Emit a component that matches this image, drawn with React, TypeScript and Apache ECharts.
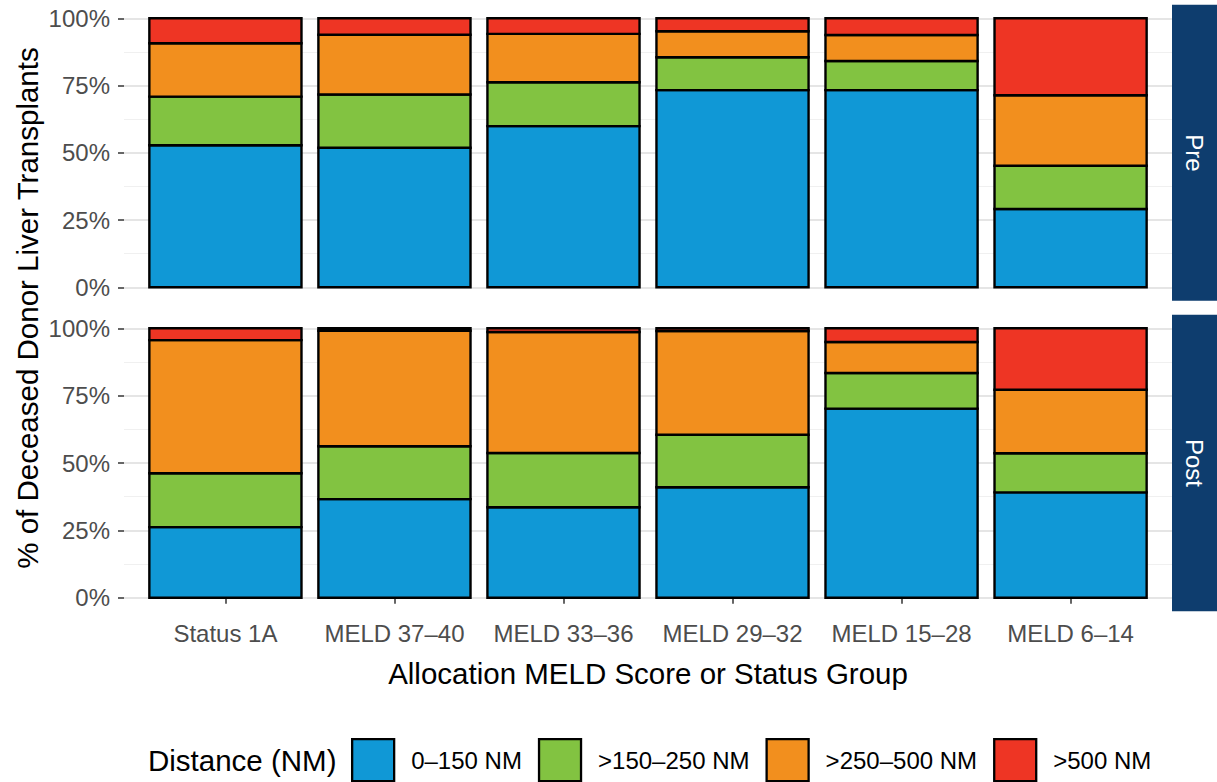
import React, { useEffect, useRef } from "react";
import * as echarts from "echarts";

// ---- data (percent of deceased donor liver transplants) ----
const categories = ["Status 1A", "MELD 37–40", "MELD 33–36", "MELD 29–32", "MELD 15–28", "MELD 6–14"];
const distanceGroups = ["0–150 NM", ">150–250 NM", ">250–500 NM", ">500 NM"];
const panels = ["Pre", "Post"];

const pre0to150 = [52.8, 51.9, 59.9, 73.3, 73.3, 29.1];
const pre150to250 = [18.1, 19.8, 16.3, 12.2, 10.8, 16.1];
const pre250to500 = [19.8, 22.2, 18.0, 9.7, 9.7, 26.2];
const preOver500 = [9.3, 6.1, 5.8, 4.8, 6.2, 28.6];

const post0to150 = [26.2, 36.6, 33.6, 41.0, 70.2, 39.1];
const post150to250 = [20.0, 19.6, 20.1, 19.5, 13.2, 14.5];
const post250to500 = [49.4, 42.9, 44.9, 38.5, 11.5, 23.6];
const postOver500 = [4.4, 0.9, 1.4, 1.0, 5.1, 22.8];

const yTickValues = [0, 25, 50, 75, 100];

// ---- styles ----
const groupColors = ["#1098D6", "#82C341", "#F28F1E", "#EE3524"];
const FONT = "'Liberation Sans', Arial, Helvetica, sans-serif";
const STRIP = "#0E3D6E";
const OUTLINE = 2.4;

export default function App() {
  const ref = useRef<HTMLDivElement>(null);

  useEffect(() => {
    if (!ref.current) return;
    const chart = echarts.init(ref.current, undefined, { renderer: "svg" });

    const panelData = [
      [pre0to150, pre150to250, pre250to500, preOver500],
      [post0to150, post150to250, post250to500, postOver500],
    ];

    // layout (pixels)
    const panelLeft = 124;
    const panelRight = 1172;
    const panelW = panelRight - panelLeft;
    const unit = panelW / (categories.length + 0.2);
    const barGridLeft = panelLeft + 0.1 * unit;
    const barGridW = unit * categories.length;
    const tops = [18.3, 328.3];
    const heights = [269, 269.4];
    const expand = 13.5;

    const grids: any[] = [];
    const xAxes: any[] = [];
    const yAxes: any[] = [];

    // background grids (full panel width) holding y axes and grid lines
    panels.forEach((_, p) => {
      grids.push({ left: panelLeft, top: tops[p], width: panelW, height: heights[p], outerBoundsMode: "none", containLabel: false });
      xAxes.push({ gridIndex: p, type: "value", min: 0, max: 1, show: false });
      yAxes.push({
        gridIndex: p,
        type: "value",
        min: 0,
        max: 100,
        interval: 25,
        axisLine: { show: false },
        axisTick: { show: true, length: 6, lineStyle: { color: "#333333", width: 1.5 } },
        axisLabel: {
          show: true,
          margin: 14,
          fontSize: 24,
          color: "#4D4D4D",
          fontFamily: FONT,
          formatter: (v: number) => (yTickValues.includes(v) ? `${v}%` : ""),
        },
        splitLine: { show: true, lineStyle: { color: "#DCDCDC", width: 1.6 } },
        minorTick: { show: false, splitNumber: 2 },
        minorSplitLine: { show: true, lineStyle: { color: "#F0F0F0", width: 1 } },
      });
    });

    // bar grids (category bands)
    panels.forEach((_, p) => {
      const gi = 2 + p;
      grids.push({ left: barGridLeft, top: tops[p], width: barGridW, height: heights[p], outerBoundsMode: "none", containLabel: false });
      const isBottom = p === panels.length - 1;
      xAxes.push({
        gridIndex: gi,
        type: "category",
        data: categories,
        boundaryGap: true,
        show: isBottom,
        offset: expand,
        axisLine: { show: false },
        axisTick: { show: isBottom, alignWithLabel: true, length: 6, lineStyle: { color: "#333333", width: 1.5 } },
        axisLabel: { show: isBottom, interval: 0, margin: 10, fontSize: 24, color: "#4D4D4D", fontFamily: FONT },
        splitLine: { show: false },
      });
      yAxes.push({ gridIndex: gi, type: "value", min: 0, max: 100, show: false, splitLine: { show: false } });
    });

    // stacked segments: [categoryIndex, lower, upper], drawn through the axes' scales
    const series: any[] = [];
    panels.forEach((_, p) => {
      const cumulative = categories.map(() => 0);
      distanceGroups.forEach((g, k) => {
        const values = panelData[p][k];
        const segs = values.map((v, i) => {
          const lo = cumulative[i];
          cumulative[i] = lo + v;
          return [i, lo, lo + v];
        });
        const color = groupColors[k];
        series.push({
          type: "custom",
          name: g,
          xAxisIndex: 2 + p,
          yAxisIndex: 2 + p,
          data: segs,
          encode: { x: 0, y: [1, 2] },
          itemStyle: { color },
          z: 2 + k,
          renderItem: (_params: any, api: any) => {
            const cat = api.value(0);
            const base = api.coord([cat, api.value(1)]);
            const top = api.coord([cat, api.value(2)]);
            const bw = api.size([1, 0])[0] * 0.9;
            return {
              type: "rect",
              shape: { x: base[0] - bw / 2, y: top[1], width: bw, height: base[1] - top[1] },
              style: { fill: color, stroke: "#000000", lineWidth: OUTLINE },
            };
          },
        });
      });
    });

    const graphics: any[] = [];
    panels.forEach((name, p) => {
      const y0 = tops[p] - expand;
      const h = heights[p] + 2 * expand;
      graphics.push({
        type: "rect",
        shape: { x: 1172, y: y0, width: 45, height: h },
        style: { fill: STRIP },
        silent: true,
      });
      graphics.push({
        type: "text",
        x: 1194.5,
        y: y0 + h / 2,
        rotation: -Math.PI / 2,
        style: { text: name, fill: "#FFFFFF", fontSize: 24, fontFamily: FONT, textAlign: "center", textVerticalAlign: "middle" },
        silent: true,
      });
    });
    graphics.push({
      type: "text",
      x: (panelLeft + panelRight) / 2,
      y: 673,
      style: {
        text: "Allocation MELD Score or Status Group",
        fill: "#000000",
        fontSize: 29.5,
        fontFamily: FONT,
        textAlign: "center",
        textVerticalAlign: "middle",
      },
      silent: true,
    });
    graphics.push({
      type: "text",
      x: 27,
      y: (tops[0] - expand + tops[1] + heights[1] + expand) / 2,
      rotation: Math.PI / 2,
      style: {
        text: "% of Deceased Donor Liver Transplants",
        fill: "#000000",
        fontSize: 29.5,
        fontFamily: FONT,
        textAlign: "center",
        textVerticalAlign: "middle",
      },
      silent: true,
    });
    graphics.push({
      type: "text",
      x: 148,
      y: 760,
      style: { text: "Distance (NM)", fill: "#000000", fontSize: 29.5, fontFamily: FONT, textAlign: "left", textVerticalAlign: "middle" },
      silent: true,
    });

    chart.setOption({
      animation: false,
      backgroundColor: "#FFFFFF",
      textStyle: { fontFamily: FONT },
      grid: grids,
      xAxis: xAxes,
      yAxis: yAxes,
      series,
      legend: {
        data: distanceGroups,
        left: 351,
        top: 738,
        orient: "horizontal",
        padding: 0,
        itemWidth: 42,
        itemHeight: 42,
        itemGap: 16,
        icon: "rect",
        selectedMode: false,
        itemStyle: { borderColor: "#000000", borderWidth: 2.3 },
        textStyle: { fontSize: 24, color: "#000000", fontFamily: FONT, padding: [0, 0, 0, 12] },
      },
      graphic: graphics,
    });

    return () => chart.dispose();
  }, []);

  return <div ref={ref} style={{ position: "fixed", left: 0, top: 0, width: 1217, height: 782 }} />;
}
